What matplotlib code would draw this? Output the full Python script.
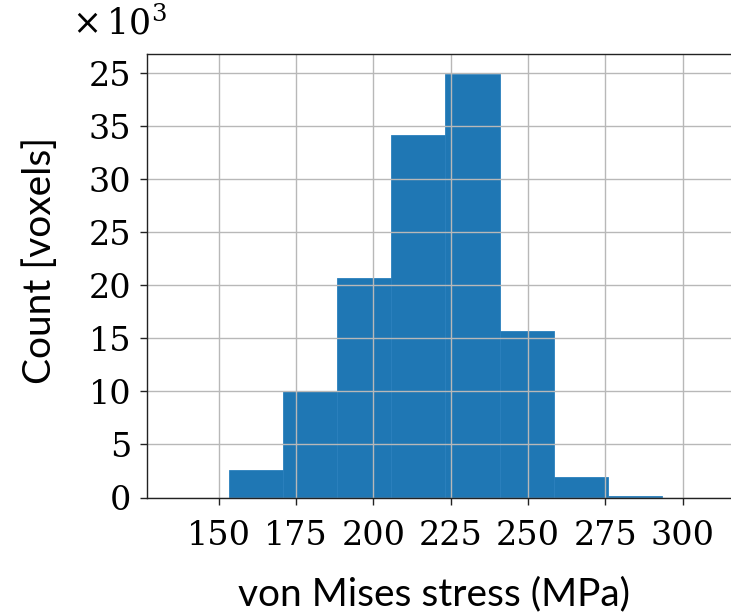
import numpy as np
import matplotlib
matplotlib.use("Agg")
import matplotlib.pyplot as plt

# Histogram of von Mises stress over voxels (counts in thousands)
bin_edges = [153.3, 170.8, 188.3, 205.8, 223.3, 240.8, 258.3, 275.8, 293.3]
counts_k = [2.6, 10.05, 20.75, 34.2, 39.9, 15.7, 1.9, 0.15]

x_ticks = [150, 175, 200, 225, 250, 275, 300]
y_ticks = [0, 5, 10, 15, 20, 25, 30, 35, 40]
y_tick_labels = ["0", "5", "10", "15", "20", "25", "30", "35", "25"]

fig = plt.figure(figsize=(7.31, 6.13), dpi=100)
ax = fig.add_axes([0.2007, 0.1884, 0.8185, 0.723])

edges = np.array(bin_edges)
ax.bar(edges[:-1], counts_k, width=np.diff(edges), align="edge",
       color="#1f77b4", edgecolor="#2a80bd", linewidth=0.6, zorder=1)

ax.set_xlim(126.8, 320.1)
ax.set_ylim(0, 41.8)
ax.set_xticks(x_ticks)
ax.set_xticklabels([str(t) for t in x_ticks])
ax.set_yticks(y_ticks)
ax.set_yticklabels(y_tick_labels)

ax.grid(True, color="#b8b8b8", linewidth=1.0, zorder=2)
ax.set_axisbelow(False)

ax.spines["right"].set_visible(False)
for s in ["left", "bottom", "top"]:
    ax.spines[s].set_color("#222222")
    ax.spines[s].set_linewidth(1.0)
    ax.spines[s].set_zorder(3)

ax.tick_params(axis="both", direction="out", length=5, width=1,
               color="#222222", labelsize=24)
ax.tick_params(axis="x", pad=11)
ax.tick_params(axis="y", pad=6)
for lab in ax.get_xticklabels() + ax.get_yticklabels():
    lab.set_family("DejaVu Serif")

ax.set_xlabel("von Mises stress (MPa)", fontsize=28, family="Lato", labelpad=18)
ax.xaxis.label.set_x(0.48)
ax.set_ylabel("Count [voxels]", fontsize=28, family="Lato", labelpad=22)
ax.yaxis.label.set_y(0.536)

fig.text(0.098, 0.962, r"$\times\,10^3$", fontsize=25,
         ha="left", va="center", math_fontfamily="dejavuserif")

fig.savefig("out.png", dpi=100)
